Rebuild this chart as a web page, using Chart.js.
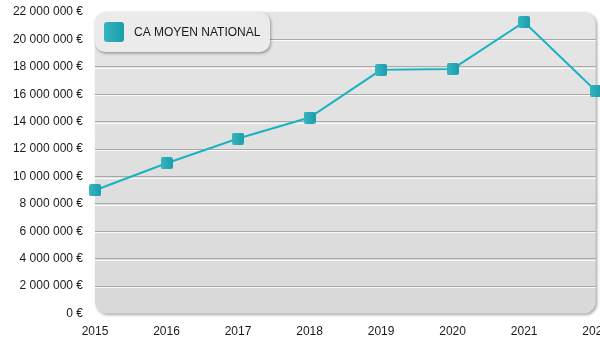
<!DOCTYPE html>
<html>
<head>
<meta charset="utf-8">
<script src="https://cdn.jsdelivr.net/npm/chart.js@4"></script>
<style>
  html, body { margin: 0; padding: 0; background: #fff; overflow: hidden; }
  #wrap { width: 620px; height: 350px; }
</style>
</head>
<body>
<div id="wrap"><canvas id="caChart" width="620" height="350"></canvas></div>
<script>
var years = ["2015", "2016", "2017", "2018", "2019", "2020", "2021", "2022"];
var caMoyen = [9000000, 10970000, 12770000, 14300000, 17780000, 17850000, 21270000, 16260000];
var serieLabel = "CA MOYEN NATIONAL";
var yMax = 22000000;
var yStep = 2000000;

var teal = "#1bb2c2";

// little rounded square used for the points and the legend
function makeSquare(size, r) {
  var c = document.createElement("canvas");
  c.width = size; c.height = size;
  var g = c.getContext("2d");
  var grad = g.createLinearGradient(0, 0, size, 0);
  grad.addColorStop(0, "#37b5c0");
  grad.addColorStop(1, "#1a9eab");
  g.fillStyle = grad;
  g.beginPath();
  g.roundRect(0, 0, size, size, r);
  g.fill();
  return c;
}
var pointImg = makeSquare(12, 2);
var legendImg = makeSquare(20, 3);

function euro(v) {
  return v.toString().replace(/\B(?=(\d{3})+(?!\d))/g, " ") + " €";
}

// plot background: rounded grey panel with a small shadow
var panelPlugin = {
  id: "panel",
  beforeDraw: function(chart) {
    var a = chart.chartArea, ctx = chart.ctx;
    ctx.save();
    ctx.shadowColor = "rgba(0,0,0,0.35)";
    ctx.shadowBlur = 3;
    ctx.shadowOffsetX = 1.5;
    ctx.shadowOffsetY = 1.5;
    var grad = ctx.createLinearGradient(0, a.top, 0, a.bottom);
    grad.addColorStop(0, "#e6e6e6");
    grad.addColorStop(1, "#d9d9d9");
    ctx.fillStyle = grad;
    ctx.beginPath();
    ctx.roundRect(a.left, a.top, a.right - a.left, a.bottom - a.top, 12);
    ctx.fill();
    ctx.restore();
  },
  beforeDatasetsDraw: function(chart) {
    // white highlight under each grid line
    var y = chart.scales.y, a = chart.chartArea, ctx = chart.ctx;
    ctx.save();
    ctx.strokeStyle = "rgba(255,255,255,0.8)";
    ctx.lineWidth = 1;
    y.ticks.forEach(function(t, i) {
      if (i === 0 || i === y.ticks.length - 1) return;
      var py = Math.round(y.getPixelForValue(t.value)) + 1.5;
      ctx.beginPath();
      ctx.moveTo(a.left, py);
      ctx.lineTo(a.right, py);
      ctx.stroke();
    });
    ctx.restore();
  }
};

// legend box drawn inside the plot, top left
var legendBox = {
  id: "legendBox",
  afterDatasetsDraw: function(chart) {
    var a = chart.chartArea, ctx = chart.ctx;
    var x = a.left, y = a.top;
    ctx.save();
    ctx.shadowColor = "rgba(0,0,0,0.35)";
    ctx.shadowBlur = 3;
    ctx.shadowOffsetX = 1;
    ctx.shadowOffsetY = 1.5;
    ctx.fillStyle = "#ebebeb";
    ctx.beginPath();
    ctx.roundRect(x, y, 175, 40, 10);
    ctx.fill();
    ctx.restore();
    ctx.save();
    ctx.drawImage(legendImg, x + 9, y + 10);
    ctx.fillStyle = "#1a1a1a";
    ctx.font = "12px 'Liberation Sans', Arial, sans-serif";
    ctx.textBaseline = "middle";
    ctx.fillText(chart.data.datasets[0].label, x + 39, y + 21);
    ctx.restore();
  }
};

var ctx = document.getElementById("caChart");
var myChart = new Chart(ctx, {
  type: "line",
  data: {
    labels: years,
    datasets: [{
      label: serieLabel,
      data: caMoyen,
      borderColor: teal,
      borderWidth: 2,
      tension: 0,
      pointStyle: pointImg,
      pointRadius: 6,
      pointHoverRadius: 6,
      clip: false
    }]
  },
  options: {
    responsive: false,
    animation: false,
    layout: { padding: { left: 0, top: 12, right: 0, bottom: 0 } },
    plugins: {
      legend: { display: false },
      tooltip: { enabled: false }
    },
    scales: {
      x: {
        offset: false,
        grid: { display: false, drawTicks: false },
        border: { display: false },
        ticks: {
          padding: 11,
          color: "#1a1a1a",
          font: { family: "'Liberation Sans', Arial, sans-serif", size: 12 },
          maxRotation: 0,
          autoSkip: false
        }
      },
      y: {
        min: 0,
        max: yMax,
        afterFit: function(scale) {
          scale.width = 95;
          scale.paddingTop = 0;
          scale.paddingBottom = 0;
        },
        grid: {
          drawTicks: false,
          lineWidth: 1,
          color: function(c) {
            var v = c.tick ? c.tick.value : 0;
            if (v === 0 || v === yMax) return "rgba(0,0,0,0)";
            return "#a9a9a9";
          }
        },
        border: { display: false },
        ticks: {
          stepSize: yStep,
          padding: 12,
          color: "#1a1a1a",
          font: { family: "'Liberation Sans', Arial, sans-serif", size: 12 },
          callback: function(v) { return euro(v); }
        }
      }
    }
  },
  plugins: [panelPlugin, legendBox]
});
</script>
</body>
</html>
